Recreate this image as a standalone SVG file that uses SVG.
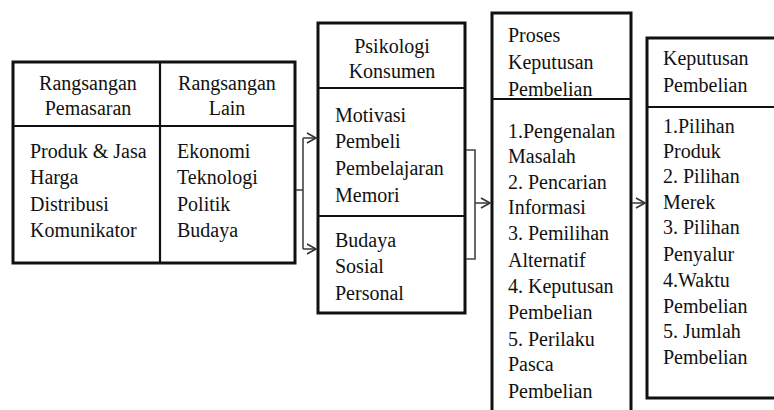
<svg xmlns="http://www.w3.org/2000/svg" width="774" height="410" viewBox="0 0 774 410">
<defs>
<style>
.box{fill:#fff;stroke:#111;stroke-width:3}
.div{stroke:#111;stroke-width:2.2;fill:none}
.t{font-family:"Liberation Serif","Times New Roman",serif;font-size:20px;fill:#111}
.c{text-anchor:middle}
.con{stroke:#444;stroke-width:1.6;fill:none}
</style>
<marker id="ar" markerWidth="12" markerHeight="12" refX="10" refY="6" orient="auto" markerUnits="userSpaceOnUse">
<path d="M1,1 L10,6 L1,11" fill="none" stroke="#333" stroke-width="1.6"/>
</marker>
</defs>
<rect width="774" height="410" fill="#fff"/>
<g id="n1">
<rect class="box" x="13" y="62" width="282" height="201"/>
<line class="div" x1="160" y1="62" x2="160" y2="263"/>
<line class="div" x1="13" y1="126" x2="295" y2="126"/>
<text class="t c" x="88" y="90">Rangsangan</text>
<text class="t c" x="88" y="115">Pemasaran</text>
<text class="t" x="30" y="158">Produk &amp; Jasa</text>
<text class="t" x="30" y="184">Harga</text>
<text class="t" x="30" y="211">Distribusi</text>
<text class="t" x="30" y="237">Komunikator</text>
<text class="t c" x="227" y="90">Rangsangan</text>
<text class="t c" x="227" y="115">Lain</text>
<text class="t" x="177" y="158">Ekonomi</text>
<text class="t" x="177" y="184">Teknologi</text>
<text class="t" x="177" y="211">Politik</text>
<text class="t" x="177" y="237">Budaya</text>
</g>
<g id="n2">
<rect class="box" x="318" y="23" width="147" height="290"/>
<line class="div" x1="318" y1="88" x2="465" y2="88"/>
<line class="div" x1="318" y1="216" x2="465" y2="216"/>
<text class="t c" x="392" y="53">Psikologi</text>
<text class="t c" x="392" y="78">Konsumen</text>
<text class="t" x="335" y="122">Motivasi</text>
<text class="t" x="335" y="148">Pembeli</text>
<text class="t" x="335" y="175">Pembelajaran</text>
<text class="t" x="335" y="202">Memori</text>
<text class="t" x="335" y="247">Budaya</text>
<text class="t" x="335" y="273">Sosial</text>
<text class="t" x="335" y="300">Personal</text>
</g>
<g id="n3">
<path class="box" d="M492,420 L492,13 L631,13 L631,420"/>
<line class="div" x1="492" y1="99" x2="631" y2="99"/>
<text class="t" x="508" y="42">Proses</text>
<text class="t" x="508" y="69">Keputusan</text>
<text class="t" x="508" y="96">Pembelian</text>
<text class="t" x="508" y="138">1.Pengenalan</text>
<text class="t" x="508" y="163">Masalah</text>
<text class="t" x="508" y="189">2. Pencarian</text>
<text class="t" x="508" y="214">Informasi</text>
<text class="t" x="508" y="240">3. Pemilihan</text>
<text class="t" x="508" y="267">Alternatif</text>
<text class="t" x="508" y="293">4. Keputusan</text>
<text class="t" x="508" y="319">Pembelian</text>
<text class="t" x="508" y="346">5. Perilaku</text>
<text class="t" x="508" y="371">Pasca</text>
<text class="t" x="508" y="398">Pembelian</text>
</g>
<g id="n4">
<path class="box" d="M780,38 L647,38 L647,398 L780,398"/>
<line class="div" x1="647" y1="107" x2="780" y2="107"/>
<text class="t" x="663" y="65">Keputusan</text>
<text class="t" x="663" y="92">Pembelian</text>
<text class="t" x="663" y="133">1.Pilihan</text>
<text class="t" x="663" y="158">Produk</text>
<text class="t" x="663" y="183">2. Pilihan</text>
<text class="t" x="663" y="209">Merek</text>
<text class="t" x="663" y="234">3. Pilihan</text>
<text class="t" x="663" y="261">Penyalur</text>
<text class="t" x="663" y="287">4.Waktu</text>
<text class="t" x="663" y="313">Pembelian</text>
<text class="t" x="663" y="338">5. Jumlah</text>
<text class="t" x="663" y="364">Pembelian</text>
</g>
<g id="connectors">
<path class="con" d="M296,190 H303"/>
<path class="con" d="M303,138 V249"/>
<path class="con" d="M303,138 H316" marker-end="url(#ar)"/>
<path class="con" d="M303,249 H316" marker-end="url(#ar)"/>
<path class="con" d="M466,150 H475 V259 H466"/>
<path class="con" d="M475,203 H490" marker-end="url(#ar)"/>
<path class="con" d="M632,203 H645" marker-end="url(#ar)"/>
</g>
</svg>
